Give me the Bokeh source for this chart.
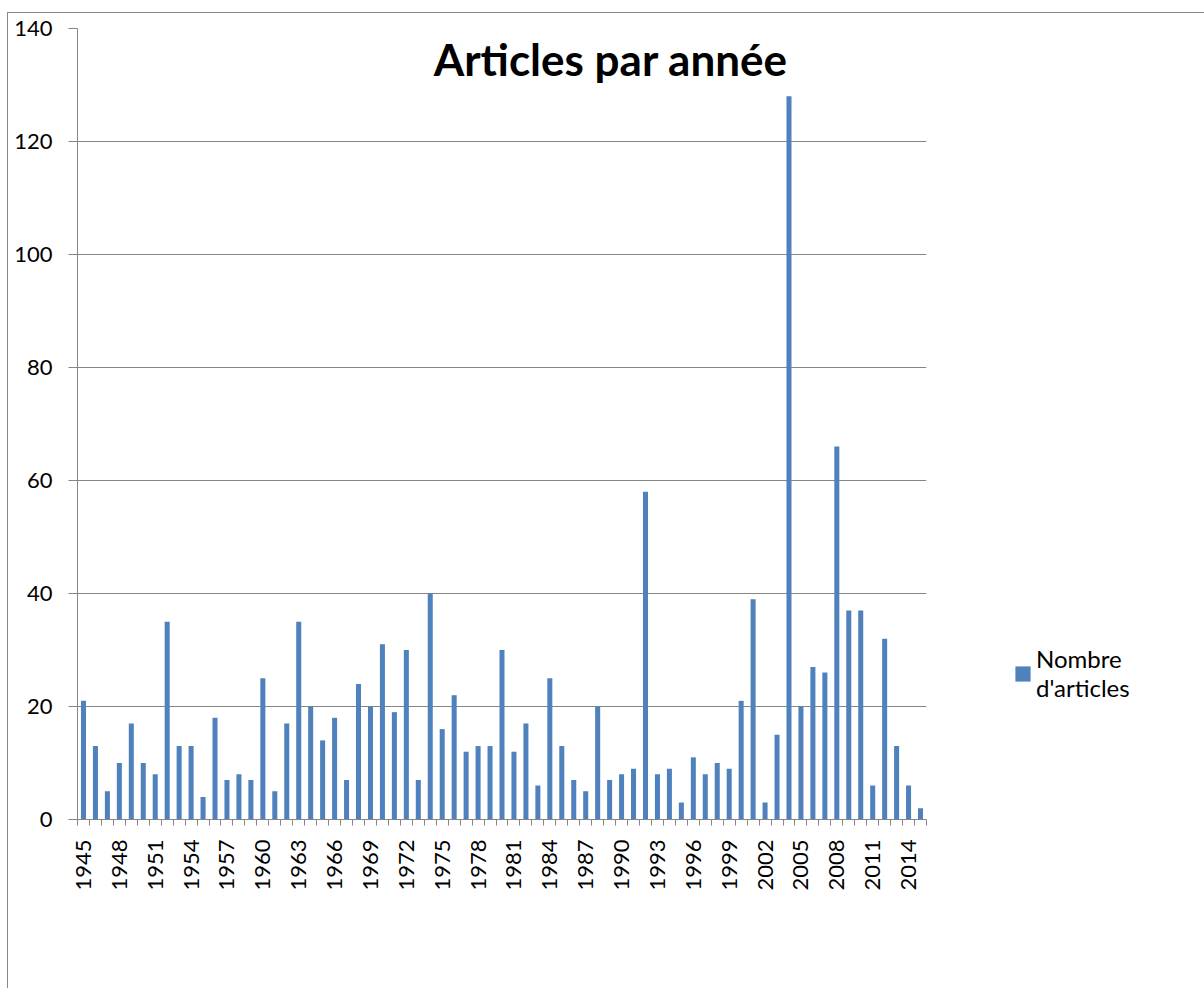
import math
from bokeh.plotting import figure
from bokeh.models import ColumnDataSource, FixedTicker, Range1d, Label, Legend, LegendItem
from bokeh.embed import file_html
from bokeh.resources import INLINE

# ---- data ----
years = list(range(1945, 2016))
counts = [21, 13, 5, 10, 17, 10, 8, 35, 13, 13,
          4, 18, 7, 8, 7, 25, 5, 17, 35, 20,
          14, 18, 7, 24, 20, 31, 19, 30, 7, 40,
          16, 22, 12, 13, 13, 30, 12, 17, 6, 25,
          13, 7, 5, 20, 7, 8, 9, 58, 8, 9,
          3, 11, 8, 10, 9, 21, 39, 3, 15, 128,
          20, 27, 26, 66, 37, 37, 6, 32, 13, 6, 2]
y_ticks = [0, 20, 40, 60, 80, 100, 120, 140]
x_label_years = years[::3]
title_text = "Articles par année"
series_name = "Nombre\nd'articles"

FONT = "Lato"
GRID = "#868686"
BAR = "#4F81BD"

src = ColumnDataSource(dict(year=years, count=counts))

p = figure(frame_width=849, frame_height=791,
           x_range=Range1d(years[0] - 0.5, years[-1] + 0.5),
           y_range=Range1d(y_ticks[0], y_ticks[-1]),
           output_backend="svg", toolbar_location=None,
           min_border_left=69, min_border_top=15,
           min_border_right=262, min_border_bottom=169)
p.styles = {"margin-left": "7px", "margin-top": "12px",
            "border-left": "1px solid #868686", "border-top": "1px solid #868686"}
p.outline_line_color = None
p.background_fill_color = "white"

r = p.vbar(x="year", top="count", width=0.42, bottom=0, source=src,
           fill_color=BAR, line_color=None)

# x axis
boundaries = [y - 0.5 for y in years] + [years[-1] + 0.5]
p.xaxis.ticker = FixedTicker(ticks=x_label_years, minor_ticks=boundaries)
p.xaxis.major_tick_line_color = None
p.xaxis.major_tick_out = 0
p.xaxis.major_tick_in = 0
p.xaxis.minor_tick_out = 6
p.xaxis.minor_tick_in = 0
p.xaxis.minor_tick_line_color = GRID
p.xaxis.axis_line_color = GRID
p.xaxis.major_label_orientation = math.pi / 2
p.xaxis.major_label_standoff = 14
p.xaxis.major_label_text_font = FONT
p.xaxis.major_label_text_font_size = "22px"
p.xaxis.major_label_text_color = "black"
p.xgrid.grid_line_color = None

# y axis
p.yaxis.ticker = FixedTicker(ticks=y_ticks)
p.yaxis.major_tick_out = 9
p.yaxis.major_tick_in = 0
p.yaxis.major_tick_line_color = GRID
p.yaxis.minor_tick_line_color = None
p.yaxis.axis_line_color = GRID
p.yaxis.major_label_standoff = 16
p.yaxis.major_label_text_font = FONT
p.yaxis.major_label_text_font_size = "22px"
p.yaxis.major_label_text_color = "black"
p.ygrid.grid_line_color = GRID
p.ygrid.grid_line_width = 1

# title inside the plot
p.add_layout(Label(x=1989.1, y=134.6, text=title_text, text_font=FONT,
                   text_font_size="44px", text_font_style="bold",
                   text_align="center", text_baseline="middle", text_color="black"))

legend = Legend(items=[LegendItem(label=series_name, renderers=[r])],
                location=(87, 117), border_line_color=None,
                background_fill_alpha=0, padding=0, margin=0,
                glyph_width=19, glyph_height=19, label_standoff=4,
                label_text_font=FONT, label_text_font_size="24px",
                label_text_color="black")
p.add_layout(legend, "right")

open("out.html", "w").write(file_html(p, INLINE))
